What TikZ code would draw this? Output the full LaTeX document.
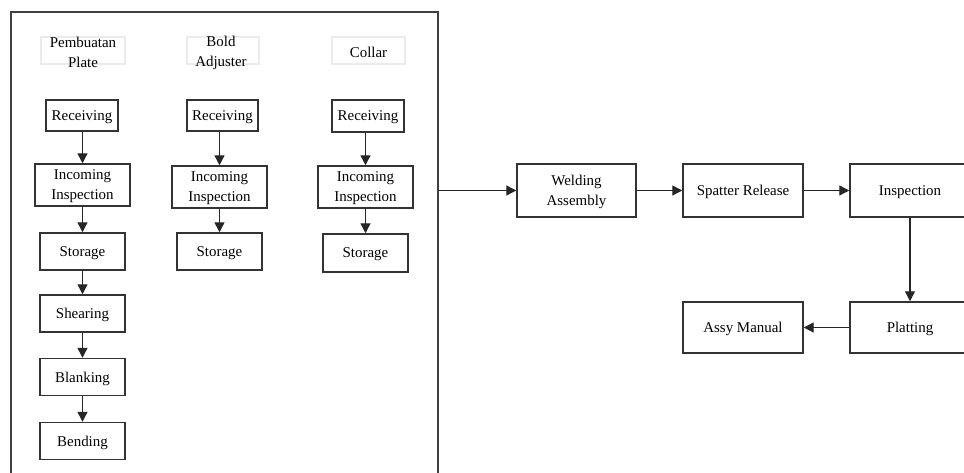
\documentclass[tikz,border=0pt]{standalone}
\usepackage{fontspec}
\setmainfont{Liberation Serif}
\usetikzlibrary{arrows.meta}
\tikzset{
  box/.style={draw=black!80, line width=1.1pt, fill=white, inner sep=0pt, align=center,
    text depth=0pt, font=\fontsize{11.2}{15}\selectfont},
  titlebox/.style={draw=black!8, line width=1pt, inner sep=0pt},
  titletext/.style={inner sep=0pt, align=center, font=\fontsize{11.2}{15}\selectfont},
  frame/.style={draw=black!75, line width=1.1pt, inner sep=0pt},
  flow/.style={draw=black!85, line width=1pt, -{Triangle[length=7.5pt,width=7.5pt]}},
}
\newcommand{\bx}[7]{\node[box, minimum width={#4*0.75pt}, minimum height={#5*0.75pt}] (#1) at (#2,#3) {#6};}
\begin{document}
\begin{tikzpicture}[x=0.75pt,y=-0.75pt]
\clip (0,0) rectangle (964,473);
\fill[white] (0,0) rectangle (964,473);
% group frame
\node[frame, minimum width={427*0.75pt}, minimum height={468*0.75pt}] (big) at (224.5,246) {};
% titles
\node[titlebox, minimum width={84*0.75pt}, minimum height={27*0.75pt}] (t1) at (83,50.5) {};
\node[titletext] (t1txt) at (83,52) {Pembuatan\\Plate};
\node[titlebox, minimum width={72*0.75pt}, minimum height={27*0.75pt}] (t2) at (223,50.5) {};
\node[titletext] (t2txt) at (221,52.5) {Bold\\Adjuster};
\node[titlebox, minimum width={73*0.75pt}, minimum height={27*0.75pt}] (t3) at (368.5,50.5) {};
\node[titletext] (t3txt) at (368.5,52) {Collar};
% column 1
\bx{r1}{82}{115.5}{72}{31}{Receiving}{}
\bx{i1}{82.5}{185}{95}{42}{Incoming\\Inspection}{}
\bx{s1}{82.5}{251.5}{85}{37}{Storage}{}
\bx{sh}{82.5}{313.5}{85}{37}{Shearing}{}
\bx{bl}{82.5}{377}{85}{37}{Blanking}{}
\bx{be}{82.5}{441}{85}{37}{Bending}{}
% column 2
\bx{r2}{222.5}{115.5}{71}{31}{Receiving}{}
\bx{i2}{219.5}{187}{95}{42}{Incoming\\Inspection}{}
\bx{s2}{219.5}{251.5}{85}{37}{Storage}{}
% column 3
\bx{r3}{368}{116}{72}{32}{Receiving}{}
\bx{i3}{365.5}{187}{95}{42}{Incoming\\Inspection}{}
\bx{s3}{365.5}{253}{85}{38}{Storage}{}
% right flow
\bx{weld}{576.5}{190.5}{119}{53}{Welding\\Assembly}{}
\bx{spat}{743}{190.5}{120}{53}{Spatter Release}{}
\bx{insp}{910}{190.5}{120}{53}{Inspection}{}
\bx{plat}{910}{327.5}{120}{51}{Platting}{}
\bx{assy}{743}{327.5}{120}{51}{Assy Manual}{}
% arrows column 1
\draw[flow] (r1.south -| i1.north) -- (i1.north);
\draw[flow] (i1) -- (s1);
\draw[flow] (s1) -- (sh);
\draw[flow] (sh) -- (bl);
\draw[flow] (bl) -- (be);
% column 2
\draw[flow] (r2.south -| i2.north) -- (i2.north);
\draw[flow] (i2) -- (s2);
% column 3
\draw[flow] (r3.south -| i3.north) -- (i3.north);
\draw[flow] (i3) -- (s3);
% right
\draw[flow] (big.east |- weld.west) -- (weld.west);
\draw[flow] (weld) -- (spat);
\draw[flow] (spat) -- (insp);
\draw[flow] (insp) -- (plat);
\draw[flow] (plat) -- (assy);
\end{tikzpicture}
\end{document}
